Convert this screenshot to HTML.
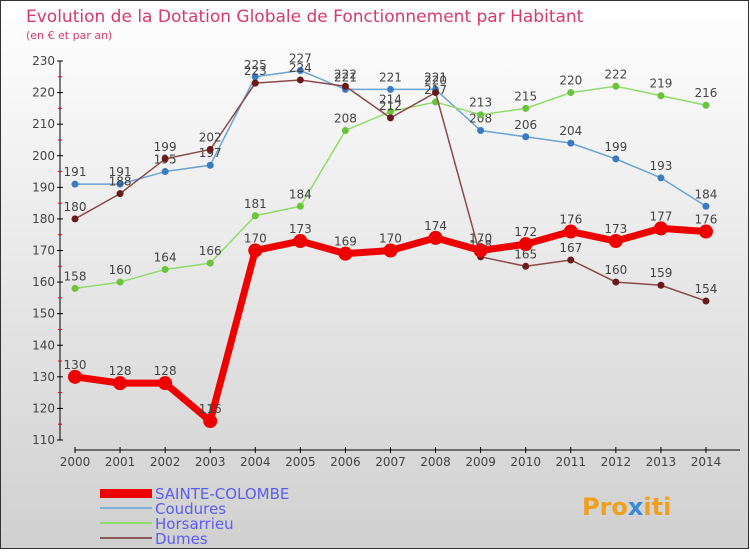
<!DOCTYPE html>
<html><head><meta charset="utf-8"><style>
body{margin:0}
#c{width:750px;height:550px;position:relative;font-family:"DejaVu Sans","Liberation Sans",sans-serif}
</style></head><body>
<div id="c">
<svg id="s" width="750" height="550" xmlns="http://www.w3.org/2000/svg">
<defs><linearGradient id="bg" x1="0" y1="0" x2="0" y2="1"><stop offset="0" stop-color="#ffffff"/><stop offset="1" stop-color="#d0d0d0"/></linearGradient></defs>
<rect x="0.5" y="0.5" width="748" height="548" fill="url(#bg)" stroke="#333"/>
<text x="26" y="22" font-size="17" fill="#d63a6a">Evolution de la Dotation Globale de Fonctionnement par Habitant</text>
<text x="26" y="39" font-size="11" fill="#d63a6a">(en € et par an)</text>
<g id="axes"></g><g id="series"></g>
<g>
<rect x="100" y="489" width="52" height="9" fill="#e00"/>
<text x="155" y="499" font-size="15" fill="#5c5cf0">SAINTE-COLOMBE</text>
<line x1="100" y1="508" x2="152" y2="508" stroke="#7aaed4" stroke-width="2"/>
<text x="155" y="514" font-size="15" fill="#5c5cf0">Coudures</text>
<line x1="100" y1="523" x2="152" y2="523" stroke="#8fdc6a" stroke-width="2"/>
<text x="155" y="529" font-size="15" fill="#5c5cf0">Horsarrieu</text>
<line x1="100" y1="538" x2="152" y2="538" stroke="#8b5a5a" stroke-width="2"/>
<text x="155" y="544" font-size="15" fill="#5c5cf0">Dumes</text>
</g>
<text x="582" y="515" font-size="24" font-weight="bold" fill="#f0a020">Pro<tspan fill="#3a8ad8">x</tspan>iti</text>
</svg></div>
<script>
const years=[2000,2001,2002,2003,2004,2005,2006,2007,2008,2009,2010,2011,2012,2013,2014];
const yTicks=[110,120,130,140,150,160,170,180,190,200,210,220,230];
const sainte=[130,128,128,116,170,173,169,170,174,170,172,176,173,177,176];
const coudures=[191,191,195,197,225,227,221,221,221,208,206,204,199,193,184];
const horsarrieu=[158,160,164,166,181,184,208,214,217,213,215,220,222,219,216];
const dumes=[180,188,199,202,223,224,222,212,220,168,165,167,160,159,154];
const NS="http://www.w3.org/2000/svg";
const x=i=>75+i*45.07;
const y=v=>440-(v-110)*(379/120);
function mk(t,a,p){const e=document.createElementNS(NS,t);for(const k in a)e.setAttribute(k,a[k]);p.appendChild(e);return e;}
const ax=document.getElementById('axes');
let l=mk('line',{x1:60,y1:y(230),x2:60,y2:y(110),stroke:'#000'},ax);

yTicks.forEach(v=>{mk('line',{x1:57,y1:y(v),x2:63,y2:y(v),stroke:'#000'},ax);
 const t=mk('text',{x:55,y:y(v)+4,'text-anchor':'end','font-size':12,fill:'#444'},ax);t.textContent=v;
 
 if(v<230)mk('line',{x1:58,y1:y(v+5),x2:62,y2:y(v+5),stroke:'#e00'},ax);});
l=mk('line',{x1:75,y1:450,x2:740,y2:450,stroke:'#000'},ax);

years.forEach((yr,i)=>{mk('line',{x1:x(i),y1:447,x2:x(i),y2:453,stroke:'#000'},ax);
 const t=mk('text',{x:x(i),y:466,'text-anchor':'middle','font-size':12,fill:'#444'},ax);t.textContent=yr;
 });
const sg=document.getElementById('series');
function draw(data,name,color,dot,w,r){
 const g=mk('g',{},sg);
 mk('polyline',{points:data.map((v,i)=>x(i)+','+y(v)).join(' '),fill:'none',stroke:color,'stroke-width':w,'stroke-linejoin':'round'},g);
 data.forEach((v,i)=>{const c=mk('circle',{cx:x(i),cy:y(v),r:r,fill:dot},g);
  
  const t=mk('text',{x:x(i),y:y(v)-8,'text-anchor':'middle','font-size':12,fill:'#444'},g);t.textContent=v;});
}
draw(coudures,'coudures-series','#6aa4d4','#3a7ac4',1.5,3.5);
draw(horsarrieu,'horsarrieu-series','#8fdc6a','#6ac43a',1.5,3.5);
draw(dumes,'dumes-series','#8b4a4a','#6a1a1a',1.5,3.5);
draw(sainte,'sainte-colombe-series','#e00','#e00',7,7);
</script>
</body></html>
